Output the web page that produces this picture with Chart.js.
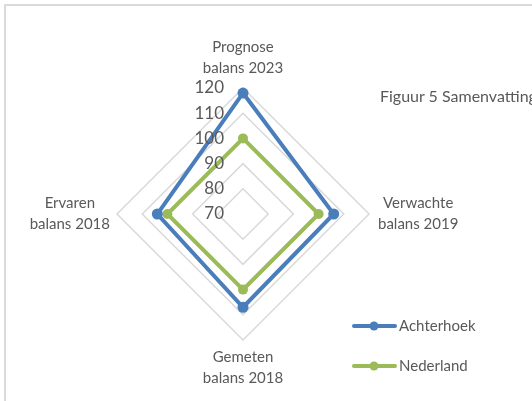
<!DOCTYPE html>
<html>
<head>
<meta charset="utf-8">
<script src="https://cdn.jsdelivr.net/npm/chart.js@4.4.0/dist/chart.umd.min.js"></script>
<style>
  html, body { margin: 0; padding: 0; background: #fff; overflow: hidden; }
  #wrap { position: relative; width: 532px; height: 401px; overflow: hidden; }
  #frame { position: absolute; left: 4px; top: 4px; width: 700px; height: 600px;
           border-left: 2px solid #dadada; border-top: 2px solid #dadada; }
  #title { position: absolute; left: 380px; top: 86px; font: 16px/19px Lato, sans-serif;
           color: #595959; white-space: nowrap; }
  canvas { position: absolute; left: 0; top: 0; }
</style>
</head>
<body>
<div id="wrap">
  <div id="frame"></div>
  <canvas id="radar" width="532" height="401"></canvas>
  <div id="title">Figuur 5 Samenvatting</div>
</div>
<script>
// assen (met de klok mee, vanaf boven)
const categories = [
  ["Prognose", "balans 2023"],
  ["Verwachte", "balans 2019"],
  ["Gemeten", "balans 2018"],
  ["Ervaren", "balans 2018"]
];
const achterhoek = [118, 106, 107, 104];
const nederland = [100, 100, 100, 100];
const tickValues = [70, 80, 90, 100, 110, 120];

const grey = "#595959";

// labels van de assen per regel centreren (zoals in Excel)
const centerPointLabels = {
  id: "centerPointLabels",
  beforeDraw(chart) {
    const items = chart.scales.r._pointLabelItems || [];
    items.forEach(it => {
      it.x = (it.left + it.right) / 2;
      it.textAlign = "center";
    });
  }
};

// waarden van de as links van de bovenste as
const tickLabels = {
  id: "tickLabels",
  afterDatasetsDraw(chart) {
    const r = chart.scales.r;
    const ctx = chart.ctx;
    ctx.save();
    ctx.font = "17px Lato, sans-serif";
    ctx.fillStyle = grey;
    ctx.textAlign = "right";
    ctx.textBaseline = "middle";
    tickValues.forEach(v => {
      const d = r.getDistanceFromCenterForValue(v);
      ctx.fillText(String(v), r.xCenter - 19, r.yCenter - d);
    });
    ctx.restore();
  }
};

// legenda rechtsonder: lijn met punt
const sideLegend = {
  id: "sideLegend",
  afterDraw(chart) {
    const ctx = chart.ctx;
    ctx.save();
    ctx.font = "15px Lato, sans-serif";
    ctx.textBaseline = "middle";
    chart.data.datasets.forEach((ds, i) => {
      const y = 326 + i * 40;
      ctx.strokeStyle = ds.borderColor;
      ctx.lineWidth = 4;
      ctx.lineCap = "round";
      ctx.beginPath();
      ctx.moveTo(354, y);
      ctx.lineTo(395, y);
      ctx.stroke();
      ctx.fillStyle = ds.borderColor;
      ctx.beginPath();
      ctx.arc(374, y, 4.5, 0, Math.PI * 2);
      ctx.fill();
      ctx.fillStyle = grey;
      ctx.fillText(ds.label, 399, y);
    });
    ctx.restore();
  }
};

const ctx = document.getElementById("radar").getContext("2d");
const chart = new Chart(ctx, {
  type: "radar",
  data: {
    labels: categories,
    datasets: [{
      label: "Achterhoek",
      data: achterhoek,
      borderColor: "#4a7ebb",
      backgroundColor: "#4a7ebb",
      borderWidth: 4,
      pointRadius: 5.5,
      pointBorderWidth: 0,
      fill: false
    }, {
      label: "Nederland",
      data: nederland,
      borderColor: "#9bbb59",
      backgroundColor: "#9bbb59",
      borderWidth: 4,
      pointRadius: 5,
      pointBorderWidth: 0,
      fill: false
    }]
  },
  options: {
    responsive: false,
    animation: false,
    layout: { padding: { left: 0, right: 43, top: 36, bottom: 11 } },
    plugins: {
      legend: { display: false },
      tooltip: { enabled: false }
    },
    elements: { line: { tension: 0 } },
    scales: {
      r: {
        min: 70,
        max: 120,
        ticks: { display: false, stepSize: 10 },
        angleLines: { display: false },
        grid: { color: "#d9d9d9", lineWidth: 1.5 },
        pointLabels: {
          color: grey,
          font: { family: "Lato, sans-serif", size: 15, lineHeight: 1.4 },
          padding: c => [9, 9, 7, 7][c.index]
        }
      }
    }
  },
  plugins: [centerPointLabels, tickLabels, sideLegend]
});
</script>
</body>
</html>
